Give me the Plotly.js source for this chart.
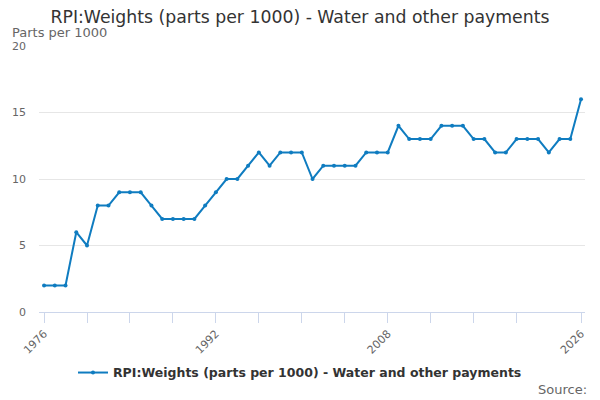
<!DOCTYPE html>
<html>
<head>
<meta charset="utf-8">
<script src="https://cdn.plot.ly/plotly-3.0.1.min.js"></script>
<style>
  html, body { margin: 0; padding: 0; background: #fff; }
  #chart { width: 600px; height: 400px; }
</style>
</head>
<body>
<div id="chart"></div>
<script>
// ------------------------------------------------------------
// data
// ------------------------------------------------------------
const years = [
  1976, 1977, 1978, 1979, 1980, 1981, 1982, 1983, 1984, 1985,
  1986, 1987, 1988, 1989, 1990, 1991, 1992, 1993, 1994, 1995,
  1996, 1997, 1998, 1999, 2000, 2001, 2002, 2003, 2004, 2005,
  2006, 2007, 2008, 2009, 2010, 2011, 2012, 2013, 2014, 2015,
  2016, 2017, 2018, 2019, 2020, 2021, 2022, 2023, 2024, 2025,
  2026
]
const weights = [
  2, 2, 2, 6, 5, 8, 8, 9, 9, 9,
  8, 7, 7, 7, 7, 8, 9, 10, 10, 11,
  12, 11, 12, 12, 12, 10, 11, 11, 11, 11,
  12, 12, 12, 14, 13, 13, 13, 14, 14, 14,
  13, 13, 12, 12, 13, 13, 13, 12, 13, 13,
  16
]
const xTickVals = [1976, 1980, 1984, 1988, 1992, 1996, 2000, 2004, 2008, 2012, 2016, 2020, 2026]
const xTickText = ['1976', '', '', '', '1992', '', '', '', '2008', '', '', '', '2026']
const seriesName = 'RPI:Weights (parts per 1000) - Water and other payments'

// ------------------------------------------------------------
// plot
// ------------------------------------------------------------
const trace = {
  x: years,
  y: weights,
  type: 'scatter',
  mode: 'lines+markers',
  name: seriesName,
  line: { color: '#0f7cc0', width: 2 },
  marker: { color: '#0f7cc0', size: 4 }
}

const font = 'DejaVu Sans, sans-serif'

const layout = {
  width: 600,
  height: 400,
  margin: { l: 39, r: 15, t: 46, b: 88 },
  paper_bgcolor: '#fff',
  plot_bgcolor: '#fff',
  font: { family: font, color: '#666', size: 11 },
  title: {
    text: seriesName,
    font: { family: font, size: 17.3, color: '#333' },
    x: 0.5, xref: 'container', xanchor: 'center',
    y: 0.958, yref: 'container', yanchor: 'middle'
  },
  xaxis: {
    range: [1975.53, 2026.37],
    tickvals: xTickVals,
    ticktext: xTickText,
    tickangle: -45,
    ticks: 'outside',
    ticklen: 10,
    tickcolor: '#ccd6eb',
    showline: true,
    linecolor: '#ccd6eb',
    showgrid: false,
    zeroline: false,
    tickfont: { size: 11, color: '#666' }
  },
  yaxis: {
    range: [0, 20],
    tickvals: [0, 5, 10, 15, 20],
    showgrid: true,
    gridcolor: '#e6e6e6',
    zeroline: false,
    showline: false,
    ticklabelstandoff: 12,
    tickfont: { size: 11, color: '#666' }
  },
  showlegend: true,
  legend: {
    orientation: 'h',
    x: 0.478, xanchor: 'center',
    y: -0.229, yanchor: 'middle',
    font: { family: font, size: 12.5, color: '#333', weight: 'bold' },
    itemwidth: 30
  },
  annotations: [
    {
      text: 'Parts per 1000',
      xref: 'paper', yref: 'paper',
      x: -0.0531, y: 1.049,
      xanchor: 'left', yanchor: 'middle',
      showarrow: false,
      font: { family: font, size: 13, color: '#666' }
    },
    {
      text: 'Source:',
      xref: 'paper', yref: 'paper',
      x: 1.0073, y: -0.293,
      xanchor: 'right', yanchor: 'middle',
      showarrow: false,
      font: { family: font, size: 13, color: '#666' }
    }
  ]
}

Plotly.newPlot('chart', [trace], layout, { displayModeBar: false, staticPlot: true })
</script>
</body>
</html>
